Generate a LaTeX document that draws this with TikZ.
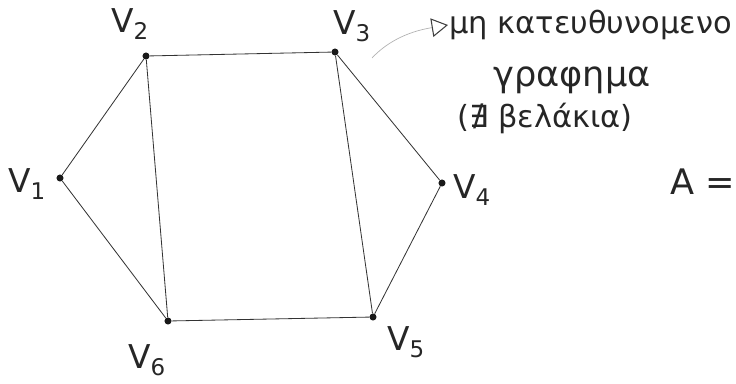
\documentclass[tikz,border=0pt]{standalone}
\usepackage{fontspec}
\setmainfont{DejaVu Sans}
\usetikzlibrary{arrows.meta}

\begin{document}
\begin{tikzpicture}[x=0.03cm, y=-0.03cm,
  vertex/.style={circle, fill=black!90, inner sep=0pt, minimum size=6pt},
  edge/.style={line width=0.7pt, black!80},
  vlabel/.style={font=\fontsize{28}{32}\selectfont, text=black!85},
  note/.style={font=\fontsize{26}{30}\selectfont, text=black!85, inner sep=1pt}]
  \useasboundingbox (0,0) rectangle (736,383);
  % vertices
  \node[vertex] (v1) at (60,178) {};
  \node[vertex] (v2) at (146,56) {};
  \node[vertex] (v3) at (335,52) {};
  \node[vertex] (v4) at (442,183) {};
  \node[vertex] (v5) at (373,317) {};
  \node[vertex] (v6) at (168,321) {};
  \node[vlabel] (l1) at (27,184) {V\textsubscript{1}};
  \node[vlabel] (l2) at (130,24) {V\textsubscript{2}};
  \node[vlabel] (l3) at (352,26) {V\textsubscript{3}};
  \node[vlabel] (l4) at (472,190) {V\textsubscript{4}};
  \node[vlabel] (l5) at (406,342) {V\textsubscript{5}};
  \node[vlabel] (l6) at (147,360) {V\textsubscript{6}};
  % edges
  \draw[edge] (v1) -- (v2) -- (v3) -- (v4) -- (v5) -- (v6) -- (v1);
  \draw[edge] (v2) -- (v6);
  \draw[edge] (v3) -- (v5);
  % note
  \node[note, anchor=west] (n1) at (448,25) {μη κατευθυνομενο};
  \node[note, font=\fontsize{30}{34}\selectfont] (n2) at (572,80) {γραφημα};
  \node[note] (n3) at (545,118) {(∄ βελάκια)};
  \coordinate (c3) at (372,58);
  \draw[gray!60, line width=0.6pt, -{Triangle[open, length=14pt, width=16pt, black!75, line width=0.9pt]}]
    (c3) .. controls (385,44) and (405,32) .. (n1.west);
  \node[vlabel, font=\fontsize{30}{34}\selectfont] (amat) at (703,182) {A =};
\end{tikzpicture}
\end{document}
